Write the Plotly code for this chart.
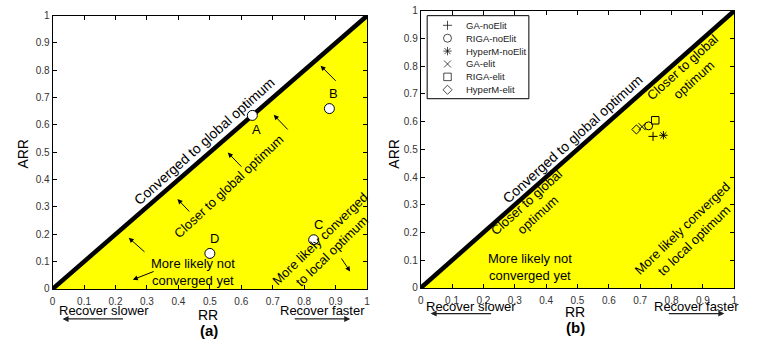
import plotly.graph_objects as go

W, H = 768, 350
FONT = "Liberation Sans, Arial, sans-serif"

# Shared axis ticks (both axes run from 0 to 1)
AXIS_LO, AXIS_HI = 0.0, 1.0
TICK_VALUES = [0.0, 0.1, 0.2, 0.3, 0.4, 0.5, 0.6, 0.7, 0.8, 0.9, 1.0]
TICK_LABELS = ["0", "0.1", "0.2", "0.3", "0.4", "0.5", "0.6", "0.7", "0.8", "0.9", "1"]

# Panel (a): illustrative runs A-D
A_LABELS = ["A", "B", "C", "D"]
A_RR = [0.635, 0.88, 0.83, 0.50]
A_ARR = [0.635, 0.66, 0.18, 0.13]

# Panel (b): measured algorithms
B_ALGOS = ["GA-noElit", "RIGA-noElit", "HyperM-noElit", "GA-elit", "RIGA-elit", "HyperM-elit"]
B_RR = [0.741, 0.727, 0.774, 0.706, 0.748, 0.688]
B_ARR = [0.547, 0.585, 0.551, 0.582, 0.605, 0.572]

# Styling
B_SYMBOLS = ["cross-thin-open", "circle-open", "asterisk-open", "x-thin-open", "square-open", "diamond-open"]
B_SIZES = [6.5, 8, 7, 7, 7.5, 7]
A_LABEL_SHIFT = [(4, -14), (4, 15), (5, 15), (5, 15)]
YELLOW = "#ffff00"
TICK_COLOR = "#333"


def paper(px, py):
    return px / W, 1 - py / H


fig = go.Figure()

panels = [("x", "y"), ("x2", "y2")]
for xa, ya in panels:
    # region where ARR < RR
    fig.add_trace(go.Scatter(
        x=[AXIS_LO, AXIS_HI, AXIS_HI, AXIS_LO], y=[AXIS_LO, AXIS_LO, AXIS_HI, AXIS_LO],
        mode="lines", fill="toself", fillcolor=YELLOW, line=dict(width=0),
        hoverinfo="skip", showlegend=False, xaxis=xa, yaxis=ya))
    # ARR == RR line
    fig.add_trace(go.Scatter(
        x=[AXIS_LO, AXIS_HI], y=[AXIS_LO, AXIS_HI], mode="lines",
        line=dict(color="black", width=4.5),
        hoverinfo="skip", showlegend=False, xaxis=xa, yaxis=ya))

# Panel (a) points
fig.add_trace(go.Scatter(
    x=A_RR, y=A_ARR, mode="markers",
    marker=dict(size=10, color="white", line=dict(color="black", width=1)),
    showlegend=False, cliponaxis=False, xaxis="x", yaxis="y"))

# Panel (b) points, one trace per algorithm
for name, rr, arr, sym, sz in zip(B_ALGOS, B_RR, B_ARR, B_SYMBOLS, B_SIZES):
    fig.add_trace(go.Scatter(
        x=[rr], y=[arr], mode="markers", name=name,
        marker=dict(symbol=sym, size=sz, color="black", line=dict(color="black", width=1)),
        showlegend=False, xaxis="x2", yaxis="y2"))

# Compact legend key for panel (b): one row per algorithm on a hidden axis pair
legend_rows = list(range(len(B_ALGOS)))
fig.add_trace(go.Scatter(
    x=[0] * len(B_ALGOS), y=legend_rows, mode="markers",
    marker=dict(symbol=B_SYMBOLS, size=B_SIZES, color="black", line=dict(color="black", width=1)),
    hoverinfo="skip", showlegend=False, xaxis="x3", yaxis="y3"))

ann = []
for row, name in zip(legend_rows, B_ALGOS):
    ann.append(dict(x=465 / W, y=row, xref="paper", yref="y3", text=name, showarrow=False,
                    xanchor="left", yanchor="middle",
                    font=dict(size=9.5, color="#222", family=FONT)))

# labels of points A-D
for lab, rr, arr, (dx, dy) in zip(A_LABELS, A_RR, A_ARR, A_LABEL_SHIFT):
    ann.append(dict(x=rr, y=arr, xref="x", yref="y", text=lab, showarrow=False,
                    xshift=dx, yshift=dy, font=dict(size=13, color="black", family=FONT)))


def region_text(xr, yr, x, y, text, angle=0, size=13):
    ann.append(dict(x=x, y=y, xref=xr, yref=yr, text=text, showarrow=False,
                    textangle=angle, align="center", xanchor="center", yanchor="middle",
                    font=dict(size=size, color="black", family=FONT)))


def data_arrow(xr, yr, tail, tip):
    ann.append(dict(x=tip[0], y=tip[1], ax=tail[0], ay=tail[1], xref=xr, yref=yr,
                    axref=xr, ayref=yr, text="", showarrow=True,
                    arrowhead=2, arrowsize=1, arrowwidth=1, arrowcolor="black"))


# Panel (a) region descriptions
region_text("x", "y", 0.483, 0.54, "Converged to global optimum", -41.8, 14)
region_text("x", "y", 0.56, 0.375, "Closer to global optimum", -43)
region_text("x", "y", 0.447, 0.062, "More likely not<br>converged yet")
region_text("x", "y", 0.87, 0.16, "More likely converged<br>to local optimum", -44)

for tail, tip in [((0.905, 0.756), (0.852, 0.817)),
                  ((0.752, 0.578), (0.703, 0.637)),
                  ((0.605, 0.442), (0.557, 0.499)),
                  ((0.439, 0.278), (0.397, 0.329)),
                  ((0.297, 0.131), (0.242, 0.187)),
                  ((0.326, 0.066), (0.255, 0.034)),
                  ((0.915, 0.117), (0.946, 0.064))]:
    data_arrow("x", "y", tail, tip)

# Panel (b) region descriptions
region_text("x2", "y2", 0.484, 0.538, "Converged to global optimum", -42.2, 14)
region_text("x2", "y2", 0.851, 0.773, "Closer to global<br>optimum", -42)
region_text("x2", "y2", 0.354, 0.286, "Closer to global<br>optimum", -42)
region_text("x2", "y2", 0.347, 0.077, "More likely not<br>converged yet")
region_text("x2", "y2", 0.851, 0.192, "More likely converged<br>to local optimum", -44)


def paper_text(px, py, text, size=13, angle=0):
    x, y = paper(px, py)
    ann.append(dict(x=x, y=y, xref="paper", yref="paper", text=text, showarrow=False,
                    textangle=angle, xanchor="center", yanchor="middle",
                    font=dict(size=size, color="black", family=FONT)))


def paper_arrow(tip_px, tip_py, tail_dx):
    x, y = paper(tip_px, tip_py)
    ann.append(dict(x=x, y=y, xref="paper", yref="paper", ax=tail_dx, ay=0, text="",
                    showarrow=True, arrowhead=2, arrowsize=1, arrowwidth=1.2,
                    arrowcolor="#222"))


# Axis titles, captions and speed hints
paper_text(20, 153, "ARR", 14, -90)
paper_text(394, 153, "ARR", 14, -90)
paper_text(207, 320, "RR", 14)
paper_text(577, 317, "RR", 14)
paper_text(208, 336, "<b>(a)</b>", 15)
paper_text(577, 333, "<b>(b)</b>", 15)

paper_text(102, 315, "Recover slower")
paper_text(322, 315, "Recover faster")
paper_text(472, 311, "Recover slower")
paper_text(699, 311, "Recover faster")
paper_arrow(60, 324, 62)
paper_arrow(350, 324, -57)
paper_arrow(431, 318.5, 62)
paper_arrow(727, 318.5, -57)

axis_common = dict(
    range=[AXIS_LO, AXIS_HI], tickmode="array", tickvals=TICK_VALUES, ticktext=TICK_LABELS,
    showgrid=False, zeroline=False, showline=True, linecolor="black", linewidth=1,
    mirror="ticks", ticks="inside", ticklen=4, tickcolor="black",
    tickfont=dict(size=10, color=TICK_COLOR, family=FONT), fixedrange=True,
)
x_axis = dict(axis_common, ticklabelstandoff=3)

n_rows = len(B_ALGOS)
row_px = 13.35
key_top = 20 - row_px / 2
key_bottom = key_top + n_rows * row_px

fig.update_layout(
    width=W, height=H,
    margin=dict(l=0, r=0, t=0, b=0),
    paper_bgcolor="white", plot_bgcolor="white",
    font=dict(family=FONT, color="black"),
    xaxis=dict(domain=[50 / W, 367 / W], anchor="y", **x_axis),
    yaxis=dict(domain=[1 - 293 / H, 1 - 10 / H], anchor="x", **axis_common),
    xaxis2=dict(domain=[421 / W, 737 / W], anchor="y2", **x_axis),
    yaxis2=dict(domain=[1 - 292 / H, 1 - 5 / H], anchor="x2", **axis_common),
    xaxis3=dict(domain=[440 / W, 456 / W], range=[-1, 1], anchor="y3", visible=False, fixedrange=True),
    yaxis3=dict(domain=[1 - key_bottom / H, 1 - key_top / H], range=[n_rows - 0.5, -0.5],
                anchor="x3", visible=False, fixedrange=True),
    shapes=[dict(type="rect", xref="paper", yref="paper",
                 x0=427.5 / W, x1=530 / W, y0=1 - 96 / H, y1=1 - 10 / H,
                 line=dict(color="black", width=1), fillcolor="rgba(0,0,0,0)", layer="above")],
    annotations=ann,
    showlegend=False,
)

fig.write_html("out.html")
